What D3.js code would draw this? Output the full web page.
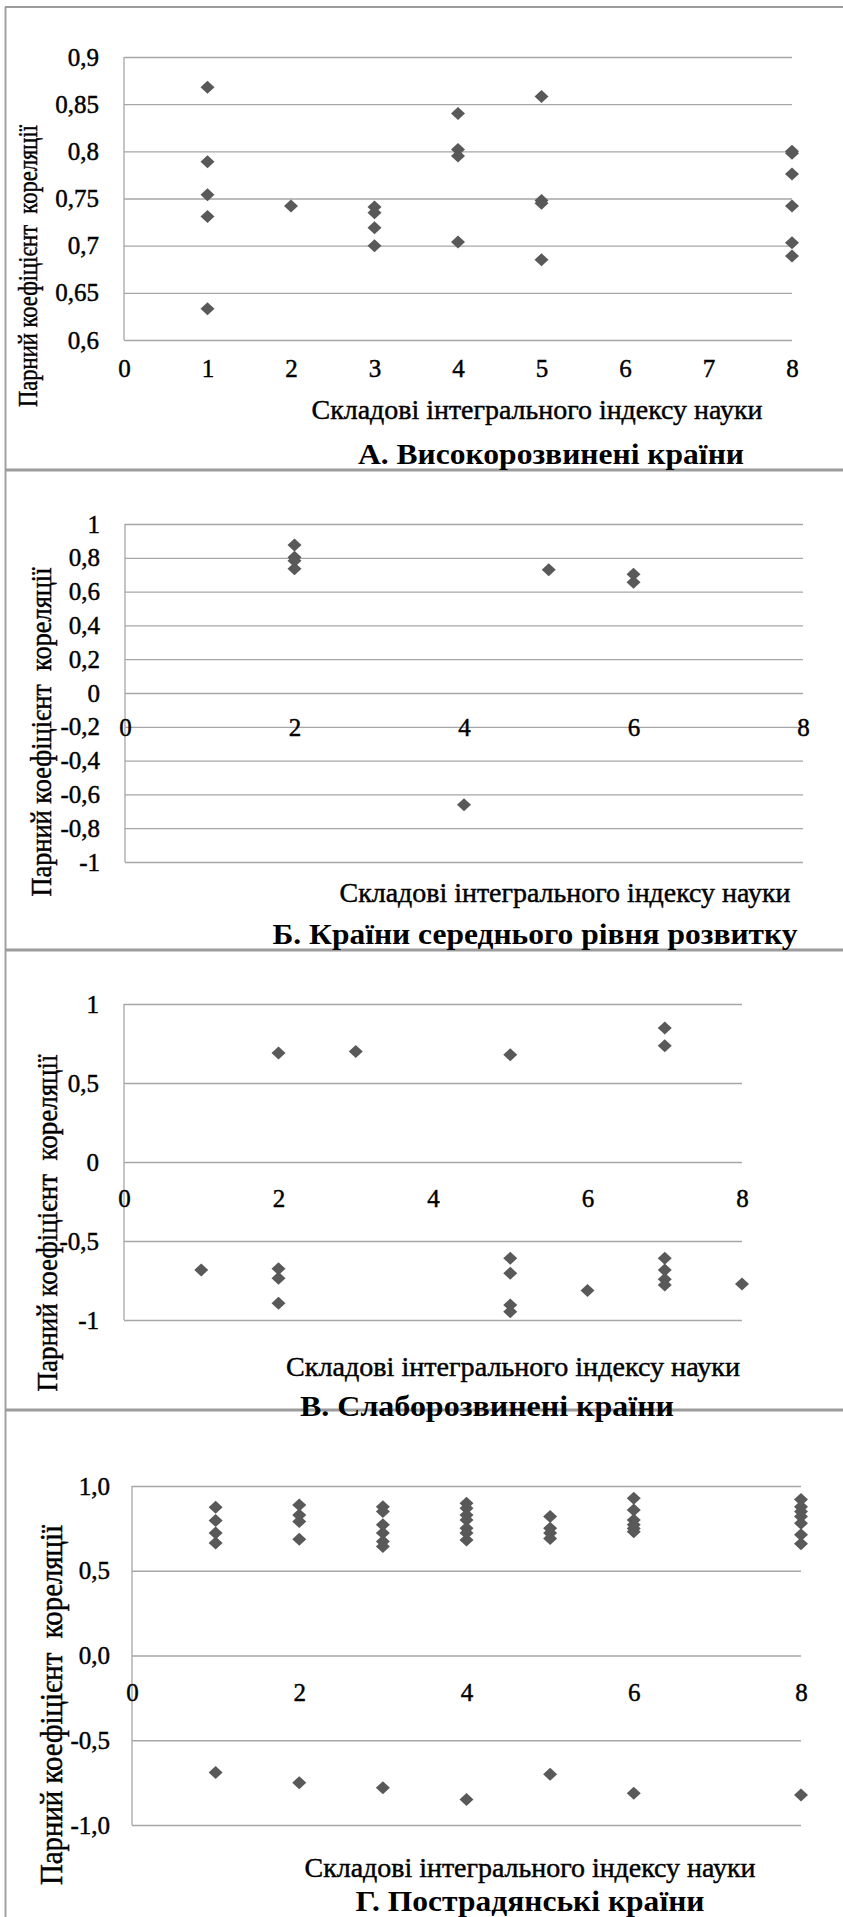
<!DOCTYPE html>
<html>
<head>
<meta charset="utf-8">
<script src="https://cdn.jsdelivr.net/npm/d3@7"></script>
<style>
body { margin: 0; background: #fff; }
svg { display: block; font-family: "Liberation Serif", "Times New Roman", serif; }
</style>
</head>
<body>
<div id="chart"></div>
<script>
//shared texts
var xTitle = "Складові інтегрального індексу науки";
var yTitle = "Парний коефіцієнт  кореляції";

//A. highly developed
var titleA = "А. Високорозвинені країни";
var xTicksA = [0, 1, 2, 3, 4, 5, 6, 7, 8];
var yTicksA = [0.6, 0.65, 0.7, 0.75, 0.8, 0.85, 0.9];
var pointsA = [
    [1, 0.868], [1, 0.789], [1, 0.754], [1, 0.731], [1, 0.633],
    [2, 0.742],
    [3, 0.741], [3, 0.735], [3, 0.719], [3, 0.700],
    [4, 0.840], [4, 0.802], [4, 0.795], [4, 0.704],
    [5, 0.858], [5, 0.748], [5, 0.745], [5, 0.685],
    [8, 0.800], [8, 0.798], [8, 0.776], [8, 0.742], [8, 0.703], [8, 0.689]
];

//B. middle level
var titleB = "Б. Країни середнього рівня розвитку";
var xTicksB = [0, 2, 4, 6, 8];
var yTicksB = [-1, -0.8, -0.6, -0.4, -0.2, 0, 0.2, 0.4, 0.6, 0.8, 1];
var pointsB = [
    [2, 0.876], [2, 0.803], [2, 0.783], [2, 0.735],
    [4, -0.661],
    [5, 0.730],
    [6, 0.703], [6, 0.655]
];

//C. underdeveloped
var titleC = "В. Слаборозвинені країни";
var xTicksC = [0, 2, 4, 6, 8];
var yTicksC = [-1, -0.5, 0, 0.5, 1];
var pointsC = [
    [1, -0.683],
    [2, 0.690], [2, -0.675], [2, -0.736], [2, -0.894],
    [3, 0.700],
    [5, 0.679], [5, -0.609], [5, -0.704], [5, -0.905], [5, -0.947],
    [6, -0.814],
    [7, 0.848], [7, 0.736], [7, -0.609], [7, -0.683], [7, -0.742], [7, -0.778],
    [8, -0.772]
];

//D. post-soviet
var titleD = "Г. Пострадянські країни";
var xTicksD = [0, 2, 4, 6, 8];
var yTicksD = [-1, -0.5, 0, 0.5, 1];
var pointsD = [
    [1, 0.875], [1, 0.796], [1, 0.722], [1, 0.663], [1, -0.691],
    [2, 0.888], [2, 0.829], [2, 0.790], [2, 0.686], [2, -0.750],
    [3, 0.878], [3, 0.849], [3, 0.771], [3, 0.722], [3, 0.672], [3, 0.643], [3, -0.780],
    [4, 0.898], [4, 0.869], [4, 0.829], [4, 0.800], [4, 0.751], [4, 0.722], [4, 0.682], [4, -0.849],
    [5, 0.820], [5, 0.751], [5, 0.722], [5, 0.690], [5, -0.701],
    [6, 0.928], [6, 0.859], [6, 0.800], [6, 0.771], [6, 0.750], [6, 0.730], [6, -0.813],
    [8, 0.920], [8, 0.878], [8, 0.849], [8, 0.820], [8, 0.780], [8, 0.712], [8, 0.660], [8, -0.823]
];

//label formats (comma decimals, plain hyphen minus)
var fmtPlain = (v) => String(v).replace(".", ",");
var fmtOne = (v) => (Math.abs(v) < 1e-9 ? 0 : v).toFixed(1).replace(".", ",");

//layout of each panel
var panels = [
    {name: titleA, points: pointsA, xTicks: xTicksA, yTicks: yTicksA, fmt: fmtPlain,
     yDomain: [0.6, 0.9], plot: {left: 124, right: 792, top: 57, bottom: 340},
     xAxisAt: 0.6, xLabelOff: 28, yPad: 25,
     xTitle: {cx: 537, cy: 409, w: 451}, title: {cx: 551, cy: 453, w: 386},
     yTitle: {cx: 27, cy: 266, w: 282, size: 28}},
    {name: titleB, points: pointsB, xTicks: xTicksB, yTicks: yTicksB, fmt: fmtPlain,
     yDomain: [-1, 1], plot: {left: 125, right: 803, top: 524, bottom: 862},
     xAxisAt: 0, xLabelOff: 34, yPad: 25,
     xTitle: {cx: 565, cy: 892, w: 451}, title: {cx: 535, cy: 933, w: 525},
     yTitle: {cx: 40, cy: 732, w: 329, size: 30}},
    {name: titleC, points: pointsC, xTicks: xTicksC, yTicks: yTicksC, fmt: fmtPlain,
     yDomain: [-1, 1], plot: {left: 124, right: 742, top: 1004, bottom: 1320},
     xAxisAt: 0, xLabelOff: 36, yPad: 25,
     xTitle: {cx: 513, cy: 1366, w: 454}, title: {cx: 487, cy: 1405, w: 374},
     yTitle: {cx: 46, cy: 1223, w: 337, size: 30}},
    {name: titleD, points: pointsD, xTicks: xTicksD, yTicks: yTicksD, fmt: fmtOne,
     yDomain: [-1, 1], plot: {left: 132, right: 801, top: 1486, bottom: 1825},
     xAxisAt: 0, xLabelOff: 37, yPad: 22,
     xTitle: {cx: 530, cy: 1867, w: 451}, title: {cx: 530, cy: 1900, w: 349},
     yTitle: {cx: 51, cy: 1705, w: 360, size: 31}}
];

var W = 843, H = 1917;
var serif = "'Liberation Serif', 'Times New Roman', serif";
var gridColor = "#a6a6a6";
var markColor = "#595959";
var inkStroke = 0.45; //the scanned text is a little heavier than the plain font

var svg = d3.select("#chart").append("svg")
    .attr("width", W)
    .attr("height", H);

svg.append("rect").attr("width", W).attr("height", H).attr("fill", "#fff");

//frame lines of the panels
svg.append("line")
    .attr("x1", 5.5).attr("x2", 5.5).attr("y1", 7).attr("y2", H)
    .attr("stroke", "#a0a0a0").attr("stroke-width", 2);
[7, 470, 950, 1410].forEach((y, i) => {
    svg.append("line")
        .attr("x1", 5).attr("x2", W).attr("y1", y).attr("y2", y)
        .attr("stroke", "#9c9c9c").attr("stroke-width", i == 0 ? 2 : 3);
});

//diamond marker
var diamond = "M0,-6.5L7,0L0,6.5L-7,0Z";

function drawPanel(p) {
    var g = svg.append("g");

    var x = d3.scaleLinear()
        .domain([0, 8])
        .range([p.plot.left, p.plot.right]);

    var y = d3.scaleLinear()
        .domain(p.yDomain)
        .range([p.plot.bottom, p.plot.top]);

    //y axis with gridlines
    var yAxis = g.append("g")
        .attr("transform", "translate(" + p.plot.left + ",0)")
        .call(d3.axisLeft(y)
            .tickValues(p.yTicks)
            .tickSize(-(p.plot.right - p.plot.left))
            .tickPadding(p.yPad)
            .tickFormat(p.fmt))
        .attr("font-family", serif)
        .attr("font-size", 25);
    yAxis.select(".domain").remove();
    yAxis.selectAll(".tick line")
        .attr("stroke", gridColor)
        .attr("stroke-width", 1.3);
    yAxis.selectAll(".tick text")
        .attr("fill", "#000")
        .attr("stroke", "#000")
        .attr("stroke-width", inkStroke);

    //vertical axis line
    g.append("line")
        .attr("x1", x(0)).attr("x2", x(0))
        .attr("y1", y(p.yDomain[1])).attr("y2", y(p.yDomain[0]))
        .attr("stroke", gridColor)
        .attr("stroke-width", 1.3);

    //x axis labels
    var xAxis = g.append("g")
        .attr("transform", "translate(0," + y(p.xAxisAt) + ")")
        .call(d3.axisBottom(x).tickValues(p.xTicks).tickSize(0))
        .attr("font-family", serif)
        .attr("font-size", 25);
    xAxis.select(".domain").remove();
    xAxis.selectAll(".tick text")
        .attr("y", p.xLabelOff)
        .attr("dy", "0.35em")
        .attr("fill", "#000")
        .attr("stroke", "#000")
        .attr("stroke-width", inkStroke);

    //points
    g.append("g")
        .selectAll("path")
        .data(p.points)
        .enter()
        .append("path")
        .attr("d", diamond)
        .attr("transform", (d) => "translate(" + x(d[0]) + "," + y(d[1]) + ")")
        .attr("fill", markColor);

    //x axis title
    g.append("text")
        .attr("x", p.xTitle.cx - p.xTitle.w / 2)
        .attr("y", p.xTitle.cy)
        .attr("dy", "0.35em")
        .attr("textLength", p.xTitle.w)
        .attr("lengthAdjust", "spacingAndGlyphs")
        .attr("stroke", "#000")
        .attr("stroke-width", inkStroke)
        .style("font-size", "28px")
        .text(xTitle);

    //panel title
    g.append("text")
        .attr("x", p.title.cx - p.title.w / 2)
        .attr("y", p.title.cy)
        .attr("dy", "0.35em")
        .attr("textLength", p.title.w)
        .attr("lengthAdjust", "spacingAndGlyphs")
        .style("font-size", "30px")
        .style("font-weight", "bold")
        .text(p.name);

    //y axis title
    g.append("text")
        .attr("transform", "translate(" + p.yTitle.cx + "," + p.yTitle.cy + ") rotate(-90)")
        .attr("x", -p.yTitle.w / 2)
        .attr("dy", "0.35em")
        .attr("textLength", p.yTitle.w)
        .attr("lengthAdjust", "spacingAndGlyphs")
        .attr("stroke", "#000")
        .attr("stroke-width", inkStroke)
        .style("font-size", p.yTitle.size + "px")
        .style("white-space", "pre")
        .text(yTitle);
}

panels.forEach((p) => drawPanel(p));
</script>
</body>
</html>
